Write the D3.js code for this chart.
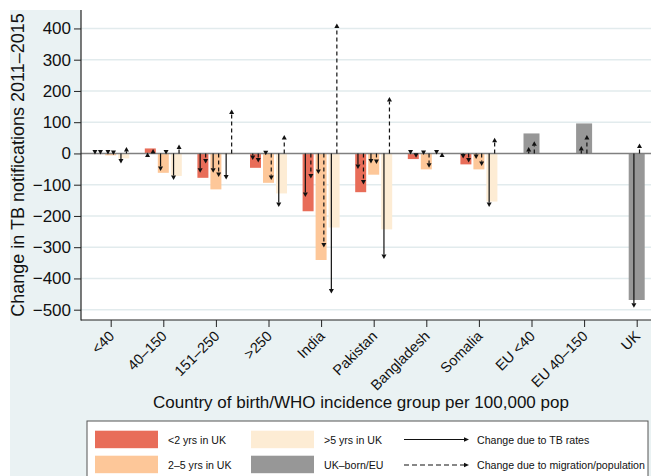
<!DOCTYPE html>
<html><head><meta charset="utf-8">
<script src="https://cdn.jsdelivr.net/npm/d3@7"></script>
<style>
html,body{margin:0;padding:0;background:#fff;}
svg{display:block;font-family:"Liberation Sans",Arial,Helvetica,sans-serif;}
</style></head>
<body>
<svg id="chart" width="651" height="476"></svg>
<script>
// ---- data ----
const categories = ["<40","40–150","151–250",">250","India","Pakistan","Bangladesh","Somalia","EU <40","EU 40–150","UK"];
const foreignCats = ["<40","40–150","151–250",">250","India","Pakistan","Bangladesh","Somalia"];
const ukEuCats = ["EU <40","EU 40–150","UK"];

// bars (change in notifications)
const lt2Values = [-2, 16, -78, -46, -185, -124, -18, -35];
const y25Values = [-6, -62, -115, -94, -341, -68, -51, -51];
const gt5Values = [-16, -72, -3, -128, -237, -243, 1, -154];
const ukEuValues = [64, 96, -469];

// arrows: change due to TB rates (solid)
const lt2Rate = [-3, 3, -62, -21, -139, -50, -3, -16];
const y25Rate = [-3, -56, -62, -6, -66, -32, -5, -18];
const gt5Rate = [-32, -85, -83, -171, -448, -338, -3, -171];
const ukEuRate = [21, 24, -494];

// arrows: change due to migration/population (dashed)
const lt2Mig = [-3, 14, -32, -29, -80, -99, -14, -29];
const y25Mig = [-5, -3, -75, -85, -301, -34, -46, -40];
const gt5Mig = [21, 29, 141, 59, 416, 181, 3, 50];
const ukEuMig = [39, 59, 32];

const yTicks = [-500,-400,-300,-200,-100,0,100,200,300,400];
const groupKeys = ["lt2","y25","gt5"];
const legendItems = ["<2 yrs in UK","2–5 yrs in UK",">5 yrs in UK","UK–born/EU"];

const colors = {lt2:"#e86d59", y25:"#fdc799", gt5:"#fdecd4", ukEu:"#979797"};

// ---- layout ----
const svg = d3.select("#chart");
const bg = "#eaf2f3";
const plotL = 81, plotT = 10, plotB = 320, plotR = 700;

svg.append("rect").attr("x",10).attr("y",10).attr("width",700).attr("height",500).attr("fill",bg);
svg.append("rect").attr("x",plotL).attr("y",0).attr("width",plotR-plotL).attr("height",plotB).attr("fill","#fff");

const y = d3.scaleLinear().domain([-533, 459]).range([plotB, plotT]);
const x = d3.scalePoint().domain(categories).range([110.7, 636.7]);
const xs = d3.scaleBand().domain(groupKeys).range([-19.5, 19.5]);

// gridlines
svg.append("g").selectAll("line").data(yTicks.filter(d=>d!==0)).join("line")
  .attr("x1",plotL).attr("x2",plotR).attr("y1",d=>y(d)).attr("y2",d=>y(d))
  .attr("stroke","#e2ebed").attr("stroke-width",1.4);

// rows
const rows = [];
foreignCats.forEach((c,i)=>{
  [["lt2",lt2Values,lt2Rate,lt2Mig],["y25",y25Values,y25Rate,y25Mig],["gt5",gt5Values,gt5Rate,gt5Mig]].forEach(([k,v,r,m])=>{
    const cx = x(c) + xs(k) + xs.bandwidth()/2;
    rows.push({cat:c,key:k,value:v[i],rate:r[i],mig:m[i],cx:cx,w:11});
  });
});
ukEuCats.forEach((c,i)=>{
  rows.push({cat:c,key:"ukEu",value:ukEuValues[i],rate:ukEuRate[i],mig:ukEuMig[i],cx:x(c),w:16});
});

// bars
svg.append("g").selectAll("rect").data(rows).join("rect")
  .attr("x",d=>d.cx-d.w/2).attr("width",d=>d.w)
  .attr("y",d=>Math.min(y(0),y(d.value))).attr("height",d=>Math.abs(y(d.value)-y(0)))
  .attr("fill",d=>colors[d.key]);

// zero line
svg.append("line").attr("x1",plotL).attr("x2",plotR).attr("y1",y(0)).attr("y2",y(0))
  .attr("stroke","#808080").attr("stroke-width",1.5);

// arrows
const arrowG = svg.append("g");
function vArrow(g, ax, v, dashed){
  const y0 = y(0), y1 = y(v);
  const s = y1 > y0 ? 1 : -1;
  const hl = 4.5, hh = 2.5;
  const yb = y1 - s*hl;
  if ((yb - y0)*s > 0.5){
    g.append("line").attr("x1",ax).attr("x2",ax).attr("y1",y0).attr("y2",yb)
      .attr("stroke","#111").attr("stroke-width",1.2)
      .attr("stroke-dasharray",dashed?"4,3":null);
  }
  g.append("path").attr("d",`M${ax},${y1}L${ax-hh},${yb}L${ax+hh},${yb}Z`).attr("fill","#111");
}
rows.forEach(d=>{
  const off = d.w===16 ? 2.8 : 2.75;
  vArrow(arrowG, d.cx-off, d.rate, false);
  vArrow(arrowG, d.cx+off, d.mig, true);
});

// axes
const yAxis = d3.axisLeft(y).tickValues(yTicks).tickSize(7).tickPadding(3)
  .tickFormat(d=>d<0?"−"+Math.abs(d):String(d));
const yg = svg.append("g").attr("transform",`translate(${plotL},0)`).call(yAxis);
yg.select(".domain").remove();
yg.selectAll(".tick line").attr("stroke","#222");
yg.selectAll("text").attr("font-size",17).attr("fill","#111").attr("font-family","Liberation Sans, Arial, sans-serif");
svg.append("line").attr("x1",plotL).attr("x2",plotL).attr("y1",plotT).attr("y2",plotB+0.5).attr("stroke","#222").attr("stroke-width",1.2);

const xAxis = d3.axisBottom(x).tickSize(7).tickPadding(3);
const xg = svg.append("g").attr("transform",`translate(0,${plotB})`).call(xAxis);
xg.select(".domain").remove();
xg.selectAll(".tick line").attr("stroke","#222");
xg.selectAll("text").attr("font-size",14.5).attr("fill","#111")
  .attr("font-family","Liberation Sans, Arial, sans-serif")
  .attr("text-anchor","end").attr("dy",null).attr("y",0)
  .attr("transform","translate(4,17) rotate(-45)");
svg.append("line").attr("x1",plotL).attr("x2",plotR).attr("y1",plotB).attr("y2",plotB).attr("stroke","#222").attr("stroke-width",1.2);

// axis titles
svg.append("text").attr("transform",`translate(24,${(plotT+plotB)/2}) rotate(-90)`)
  .attr("text-anchor","middle").attr("font-size",18).attr("fill","#111")
  .text("Change in TB notifications 2011–2015");
svg.append("text").attr("x",361).attr("y",408).attr("text-anchor","middle")
  .attr("font-size",17).attr("fill","#111")
  .text("Country of birth/WHO incidence group per 100,000 pop");

// legend
const lg = svg.append("g");
lg.append("rect").attr("x",87).attr("y",421).attr("width",561).attr("height",70)
  .attr("fill","#fff").attr("stroke","#555").attr("stroke-width",1);
const swKeys = ["lt2","y25","gt5","ukEu"];
legendItems.forEach((t,i)=>{
  const col = Math.floor(i/2), row = i%2;
  const sx = 95 + col*156, sy = 430.7 + row*25;
  lg.append("rect").attr("x",sx).attr("y",sy).attr("width",63).attr("height",17.5).attr("fill",colors[swKeys[i]]);
  lg.append("text").attr("x",sx+73).attr("y",sy+13).attr("font-size",10.6).attr("fill","#111").text(t);
});
const arrowLabels = ["Change due to TB rates","Change due to migration/population"];
arrowLabels.forEach((t,i)=>{
  const ly = 439.5 + i*25.5;
  lg.append("line").attr("x1",404).attr("x2",465).attr("y1",ly).attr("y2",ly)
    .attr("stroke","#111").attr("stroke-width",1.1).attr("stroke-dasharray",i?"5,3":null);
  lg.append("path").attr("d",`M469,${ly}L464,${ly-2.2}L464,${ly+2.2}Z`).attr("fill","#111");
  lg.append("text").attr("x",477).attr("y",ly+4).attr("font-size",10.6).attr("fill","#111").text(t);
});
</script>
</body></html>
